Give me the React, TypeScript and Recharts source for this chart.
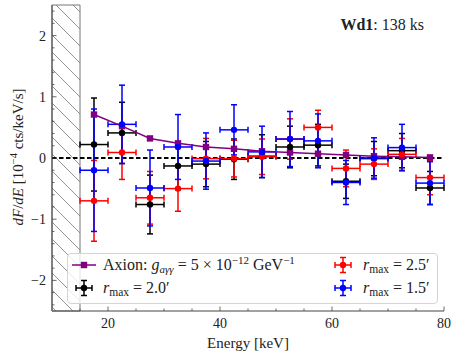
import React from 'react';
import { ComposedChart, Scatter, XAxis, YAxis, ErrorBar, ReferenceLine, ReferenceArea } from 'recharts';

// ---- data ----
const energies = [17.5, 22.5, 27.5, 32.5, 37.5, 42.5, 47.5, 52.5, 57.5, 62.5, 67.5, 72.5, 77.5];
const binHalfWidth = [2.5, 2.5, 2.5, 2.5, 2.5, 2.5, 2.5, 2.5, 2.5, 2.5, 2.5, 2.5, 2.5];

const axionModel = [0.71, 0.52, 0.32, 0.24, 0.18, 0.15, 0.11, 0.09, 0.07, 0.05, 0.03, 0.02, 0.01];

const r20Values = [0.22, 0.41, -0.76, -0.13, -0.1, -0.02, 0.03, 0.18, 0.21, -0.38, -0.01, 0.12, -0.49];
const r20Errors = [0.76, 0.5, 0.48, 0.39, 0.37, 0.33, 0.35, 0.34, 0.34, 0.28, 0.28, 0.28, 0.27];

const r25Values = [-0.7, 0.09, -0.65, -0.5, -0.01, -0.01, 0.02, 0.31, 0.5, -0.17, -0.1, 0.06, -0.32];
const r25Errors = [0.66, 0.44, 0.43, 0.37, 0.33, 0.3, 0.29, 0.33, 0.28, 0.3, 0.25, 0.26, 0.28];

const r15Values = [-0.2, 0.55, -0.49, 0.18, -0.05, 0.46, 0.1, 0.31, 0.28, -0.4, 0.0, 0.17, -0.41];
const r15Errors = [1.0, 0.64, 0.62, 0.53, 0.46, 0.41, 0.42, 0.45, 0.44, 0.36, 0.33, 0.38, 0.35];

const excludedBand = [10, 15];

const xMajorTicks = [20, 40, 60, 80];
const xMinorTicks = [15, 25, 30, 35, 45, 50, 55, 65, 70, 75];
const yMajorTicks = [-2, -1, 0, 1, 2];
const yMinorTicks = [-2.4, -2.2, -1.8, -1.6, -1.4, -1.2, -0.8, -0.6, -0.4, -0.2, 0.2, 0.4, 0.6, 0.8, 1.2, 1.4, 1.6, 1.8, 2.2, 2.4];

const build = (vals: number[], errs: number[] | null) =>
  energies.map((x, i) => ({ x, y: vals[i], ex: binHalfWidth[i], ey: errs ? errs[i] : 0 }));

const axionData = build(axionModel, null);
const r20Data = build(r20Values, r20Errors);
const r25Data = build(r25Values, r25Errors);
const r15Data = build(r15Values, r15Errors);

// ---- styles ----
const FONT = "'Liberation Serif', 'Times New Roman', serif";
const AX = '#444';
const TXT = '#222';
const PURPLE = '#800080';
const BLACK = '#000000';
const RED = '#ff0000';
const BLUE = '#0000ff';

const fmt = (v: number) => (v < 0 ? '\u2212' + Math.abs(v) : String(v));

function BottomTick(p: any) {
  const { x, y, payload } = p;
  const major = xMajorTicks.includes(payload.value);
  return (
    <g>
      <line x1={x} x2={x} y1={y} y2={y - (major ? 4.5 : 2.5)} stroke={AX} strokeWidth={0.8} />
      {major && (
        <text x={x} y={y + 17} textAnchor="middle" fontFamily={FONT} fontSize={14} fill={TXT}>
          {payload.value}
        </text>
      )}
    </g>
  );
}
function TopTick(p: any) {
  const { x, y, payload } = p;
  const major = xMajorTicks.includes(payload.value);
  return <line x1={x} x2={x} y1={y} y2={y + (major ? 4.5 : 2.5)} stroke={AX} strokeWidth={0.8} />;
}
function LeftTick(p: any) {
  const { x, y, payload } = p;
  const major = yMajorTicks.includes(payload.value);
  return (
    <g>
      <line x1={x} x2={x + (major ? 4.5 : 2.5)} y1={y} y2={y} stroke={AX} strokeWidth={0.8} />
      {major && (
        <text x={x - 6} y={y + 5} textAnchor="end" fontFamily={FONT} fontSize={14} fill={TXT}>
          {fmt(payload.value)}
        </text>
      )}
    </g>
  );
}
function RightTick(p: any) {
  const { x, y, payload } = p;
  const major = yMajorTicks.includes(payload.value);
  return <line x1={x} x2={x - (major ? 4.5 : 2.5)} y1={y} y2={y} stroke={AX} strokeWidth={0.8} />;
}

const dot = (color: string) => (props: any) => (
  <circle cx={props.cx} cy={props.cy} r={3.2} fill={color} stroke="none" />
);
const square = (props: any) => (
  <rect x={props.cx - 3.2} y={props.cy - 3.2} width={6.4} height={6.4} fill={PURPLE} stroke="none" />
);

const ErrMarker = ({ color }: { color: string }) => (
  <svg width={20} height={20} style={{ display: 'block' }}>
    <line x1={10} y1={2.5} x2={10} y2={17.5} stroke={color} strokeWidth={1.5} />
    <line x1={7} y1={2.5} x2={13} y2={2.5} stroke={color} strokeWidth={1.5} />
    <line x1={7} y1={17.5} x2={13} y2={17.5} stroke={color} strokeWidth={1.5} />
    <line x1={2} y1={10} x2={18} y2={10} stroke={color} strokeWidth={1.5} />
    <line x1={2} y1={7} x2={2} y2={13} stroke={color} strokeWidth={1.5} />
    <line x1={18} y1={7} x2={18} y2={13} stroke={color} strokeWidth={1.5} />
    <circle cx={10} cy={10} r={3.2} fill={color} />
  </svg>
);

const Rmax = ({ v }: { v: string }) => (
  <span>
    <i>r</i>
    <sub style={{ fontSize: 11.5, verticalAlign: '-3px', lineHeight: 0 }}>max</sub> = {v}
    {'\u2032'}
  </span>
);

const abs = (l: number, t: number): React.CSSProperties => ({
  position: 'absolute',
  left: l,
  top: t,
  whiteSpace: 'nowrap',
  fontFamily: FONT,
  color: TXT,
  lineHeight: 1,
});

export default function App() {
  const errProps = { strokeWidth: 1.5, width: 3 };
  return (
    <div style={{ position: 'absolute', left: 0, top: 0, width: 457, height: 357, background: '#fff' }}>
      <ComposedChart width={457} height={357} margin={{ top: 5, right: 13, bottom: 16, left: 12 }}>
        <defs>
          <pattern id="hatch" patternUnits="userSpaceOnUse" width={17} height={17}>
            <path d="M0,0 L17,17 M-2,15 L2,19 M15,-2 L19,2" stroke="#777" strokeWidth={0.8} />
          </pattern>
        </defs>
        <XAxis
          xAxisId={0}
          type="number"
          dataKey="x"
          domain={[10, 80]}
          allowDataOverflow
          ticks={[...xMinorTicks, ...xMajorTicks]}
          interval={0}
          tick={BottomTick}
          tickLine={false}
          tickSize={0}
          tickMargin={0}
          height={30}
          axisLine={{ stroke: AX, strokeWidth: 1 }}
        />
        <XAxis
          xAxisId="top"
          orientation="top"
          type="number"
          domain={[10, 80]}
          allowDataOverflow
          ticks={[...xMinorTicks, ...xMajorTicks]}
          interval={0}
          tick={TopTick}
          tickLine={false}
          tickSize={0}
          tickMargin={0}
          height={0}
          axisLine={{ stroke: AX, strokeWidth: 1 }}
        />
        <YAxis
          yAxisId={0}
          type="number"
          dataKey="y"
          domain={[-2.5, 2.5]}
          allowDataOverflow
          ticks={[...yMinorTicks, ...yMajorTicks]}
          interval={0}
          tick={LeftTick}
          tickLine={false}
          tickSize={0}
          tickMargin={0}
          width={40}
          axisLine={{ stroke: AX, strokeWidth: 1 }}
        />
        <YAxis
          yAxisId="right"
          orientation="right"
          type="number"
          domain={[-2.5, 2.5]}
          allowDataOverflow
          ticks={[...yMinorTicks, ...yMajorTicks]}
          interval={0}
          tick={RightTick}
          tickLine={false}
          tickSize={0}
          tickMargin={0}
          width={0}
          axisLine={{ stroke: AX, strokeWidth: 1 }}
        />
        <ReferenceArea
          x1={excludedBand[0]}
          x2={excludedBand[1]}
          y1={-2.5}
          y2={2.5}
          fill="url(#hatch)"
          fillOpacity={1}
          stroke="#777"
          strokeWidth={1}
        />
        <ReferenceLine y={0} stroke="#000" strokeDasharray="4.5 2.5" strokeWidth={1.8} />
        <Scatter
          data={axionData}
          shape={square}
          line={{ stroke: PURPLE, strokeWidth: 1.5 }}
          lineType="joint"
          isAnimationActive={false}
        />
        <Scatter data={r20Data} shape={dot(BLACK)} isAnimationActive={false}>
          <ErrorBar dataKey="ey" direction="y" stroke={BLACK} {...errProps} />
          <ErrorBar dataKey="ex" direction="x" stroke={BLACK} {...errProps} />
        </Scatter>
        <Scatter data={r25Data} shape={dot(RED)} isAnimationActive={false}>
          <ErrorBar dataKey="ey" direction="y" stroke={RED} {...errProps} />
          <ErrorBar dataKey="ex" direction="x" stroke={RED} {...errProps} />
        </Scatter>
        <Scatter data={r15Data} shape={dot(BLUE)} isAnimationActive={false}>
          <ErrorBar dataKey="ey" direction="y" stroke={BLUE} {...errProps} />
          <ErrorBar dataKey="ex" direction="x" stroke={BLUE} {...errProps} />
        </Scatter>
      </ComposedChart>

      {/* title */}
      <div style={{ ...abs(0, 17), left: 'auto', right: 33, fontSize: 16 }}>
        <b>Wd1</b>: 138 ks
      </div>

      {/* axis labels */}
      <div style={{ ...abs(248, 336), transform: 'translateX(-50%)', fontSize: 15 }}>Energy [keV]</div>
      <div
        style={{
          ...abs(18, 157),
          transform: 'translate(-50%, -50%) rotate(-90deg)',
          fontSize: 15,
        }}
      >
        <i>dF</i>/<i>dE</i> [10<sup style={{ fontSize: 10.5, verticalAlign: '6px', lineHeight: 0 }}>{'\u22124'}</sup> cts/keV/s]
      </div>

      {/* legend */}
      <div
        style={{
          position: 'absolute',
          left: 67,
          top: 253,
          width: 369,
          height: 49,
          border: '1px solid #d4d4d4',
          borderRadius: 4,
          background: 'rgba(255,255,255,0.8)',
        }}
      />
      <svg style={{ position: 'absolute', left: 71, top: 259 }} width={26} height={12}>
        <line x1={1} y1={6} x2={25} y2={6} stroke={PURPLE} strokeWidth={1.5} />
        <rect x={9.8} y={2.8} width={6.4} height={6.4} fill={PURPLE} />
      </svg>
      <div style={{ ...abs(103, 257), fontSize: 16 }}>
        Axion: <i>g</i>
        <sub style={{ fontSize: 11, verticalAlign: '-3px', lineHeight: 0 }}>
          <i>a{'\u03b3\u03b3'}</i>
        </sub>{' '}
        = 5 {'\u00d7'} 10<sup style={{ fontSize: 11, verticalAlign: '6px', lineHeight: 0 }}>{'\u221212'}</sup> GeV
        <sup style={{ fontSize: 11, verticalAlign: '6px', lineHeight: 0 }}>{'\u22121'}</sup>
      </div>
      <div style={{ position: 'absolute', left: 74, top: 278 }}>
        <ErrMarker color={BLACK} />
      </div>
      <div style={{ ...abs(103, 280), fontSize: 16 }}>
        <Rmax v="2.0" />
      </div>
      <div style={{ position: 'absolute', left: 333, top: 255 }}>
        <ErrMarker color={RED} />
      </div>
      <div style={{ ...abs(363, 257), fontSize: 16 }}>
        <Rmax v="2.5" />
      </div>
      <div style={{ position: 'absolute', left: 333, top: 278 }}>
        <ErrMarker color={BLUE} />
      </div>
      <div style={{ ...abs(363, 280), fontSize: 16 }}>
        <Rmax v="1.5" />
      </div>
    </div>
  );
}
